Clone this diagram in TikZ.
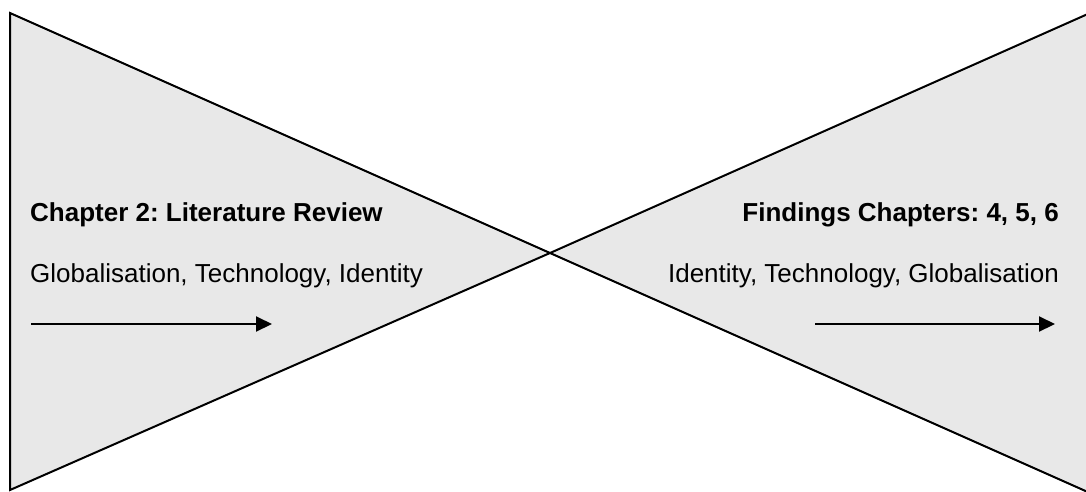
\documentclass[tikz,border=0pt]{standalone}
\usepackage{fontspec}
\setmainfont{Liberation Sans}
\usetikzlibrary{arrows.meta}
\definecolor{panelgray}{RGB}{232,232,232}
\frenchspacing
\begin{document}
\begin{tikzpicture}[x=1pt,y=-1pt,
  panel/.style={fill=panelgray,draw=black,line width=2pt,line join=miter},
  headtext/.style={inner sep=0pt,font=\frenchspacing\bfseries\fontsize{26}{30}\selectfont},
  bodytext/.style={inner sep=0pt,font=\frenchspacing\fontsize{26}{30}\selectfont},
  flowarrow/.style={line width=2pt,-{Triangle[length=16pt,width=15pt]}}]
\useasboundingbox (0,0) rectangle (1086,491);
\clip (0,0) rectangle (1086,491);
\coordinate (apex) at (550,253);
\coordinate (lt) at (10,13);
\coordinate (lb) at (10,490);
\coordinate (rt) at (1090,13);
\coordinate (rb) at (1090,493);
\draw[panel] (lt) -- (apex) -- (lb) -- cycle;
\draw[panel] (rt) -- (apex) -- (rb) -- cycle;
\node[headtext,anchor=base west] (lhead) at (30,221) {Chapter 2: Literature Review};
\node[bodytext,anchor=base west] (lbody) at (30,282) {Globalisation, Technology, Identity};
\node[headtext,anchor=base east] (rhead) at (1059,221) {Findings Chapters: 4, 5, 6};
\node[bodytext,anchor=base east] (rbody) at (1059,282) {Identity, Technology, Globalisation};
\coordinate (la1) at (31,324);
\coordinate (la2) at (272,324);
\coordinate (ra1) at (815,324);
\coordinate (ra2) at (1055,324);
\draw[flowarrow] (la1) -- (la2);
\draw[flowarrow] (ra1) -- (ra2);
\end{tikzpicture}
\end{document}
